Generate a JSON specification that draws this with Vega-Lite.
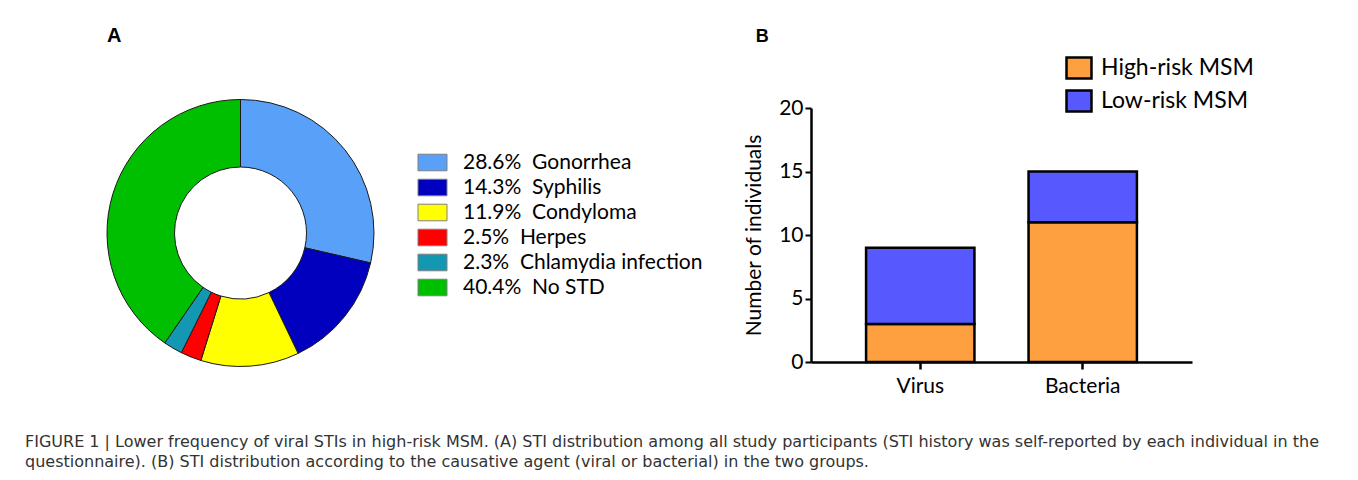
{
  "$schema": "https://vega.github.io/schema/vega-lite/v6.json",
  "background": "white",
  "padding": {"left": 25, "top": 26, "right": 5, "bottom": 5},
  "title": {
    "text": [
      "FIGURE 1 | Lower frequency of viral STIs in high-risk MSM. (A) STI distribution among all study participants (STI history was self-reported by each individual in the",
      "questionnaire). (B) STI distribution according to the causative agent (viral or bacterial) in the two groups."
    ],
    "orient": "bottom",
    "anchor": "start",
    "frame": "bounds",
    "dx": -80,
    "offset": 38,
    "font": "DejaVu Sans",
    "fontSize": 16,
    "fontWeight": "normal",
    "color": "#333333",
    "lineHeight": 20
  },
  "config": {"view": {"stroke": null}, "font": "Lato"},
  "resolve": {"scale": {"color": "independent"}, "legend": {"color": "independent"}},
  "spacing": 40,
  "hconcat": [
    {
      "width": 267,
      "height": 250,
      "title": {"text": "A", "anchor": "start", "frame": "group", "font": "Liberation Sans", "fontSize": 20, "fontWeight": "bold", "color": "black", "offset": 51.5},
      "data": {
        "values": [
          {"category": "28.6%\u00a0\u00a0Gonorrhea", "share": 28.6, "rank": 1},
          {"category": "14.3%\u00a0\u00a0Syphilis", "share": 14.3, "rank": 2},
          {"category": "11.9%\u00a0\u00a0Condyloma", "share": 11.9, "rank": 3},
          {"category": "2.5%\u00a0\u00a0Herpes", "share": 2.5, "rank": 4},
          {"category": "2.3%\u00a0\u00a0Chlamydia infection", "share": 2.3, "rank": 5},
          {"category": "40.4%\u00a0\u00a0No STD", "share": 40.4, "rank": 6}
        ]
      },
      "mark": {"type": "arc", "innerRadius": 66, "outerRadius": 133.5, "stroke": "#1a1a1a", "strokeWidth": 1},
      "encoding": {
        "theta": {"field": "share", "type": "quantitative", "stack": true},
        "order": {"field": "rank", "type": "quantitative"},
        "color": {
          "field": "category",
          "type": "nominal",
          "sort": null,
          "scale": {
            "domain": ["28.6%\u00a0\u00a0Gonorrhea", "14.3%\u00a0\u00a0Syphilis", "11.9%\u00a0\u00a0Condyloma", "2.5%\u00a0\u00a0Herpes", "2.3%\u00a0\u00a0Chlamydia infection", "40.4%\u00a0\u00a0No STD"],
            "range": ["#58A0F8", "#0000BE", "#FFFF00", "#FF0000", "#1497B2", "#00BE00"]
          },
          "legend": {
            "title": null,
            "orient": "none",
            "legendX": 315,
            "legendY": 44,
            "symbolType": "M-1.75,-1H1.75V1H-1.75Z",
            "symbolSize": 275,
            "symbolStrokeColor": "#808080",
            "symbolStrokeWidth": 1,
            "symbolOpacity": 1,
            "labelFont": "Lato",
            "labelFontSize": 21,
            "labelColor": "black",
            "labelOffset": 20,
            "rowPadding": 3,
            "labelLimit": 400
          }
        }
      }
    },
    {
      "width": 381,
      "height": 254,
      "title": {"text": "B", "anchor": "start", "frame": "bounds", "font": "Liberation Sans", "fontSize": 18, "fontWeight": "bold", "color": "black", "offset": 10, "dx": 12},
      "data": {
        "values": [
          {"agent": "Virus", "group": "High-risk MSM", "count": 3, "stackRank": 1},
          {"agent": "Virus", "group": "Low-risk MSM", "count": 6, "stackRank": 2},
          {"agent": "Bacteria", "group": "High-risk MSM", "count": 11, "stackRank": 1},
          {"agent": "Bacteria", "group": "Low-risk MSM", "count": 4, "stackRank": 2}
        ]
      },
      "mark": {"type": "bar", "stroke": "black", "strokeWidth": 2.5},
      "encoding": {
        "x": {
          "field": "agent",
          "type": "nominal",
          "sort": ["Virus", "Bacteria"],
          "scale": {"paddingInner": 0.333, "paddingOuter": 0.339},
          "axis": {"title": null, "labelAngle": 0, "labelFont": "Lato", "labelFontSize": 21, "labelColor": "black", "labelPadding": 6, "tickSize": 7, "tickWidth": 2.5, "tickColor": "black", "domainColor": "black", "domainWidth": 2.5}
        },
        "y": {
          "field": "count",
          "type": "quantitative",
          "stack": "zero",
          "scale": {"domain": [0, 20], "nice": false},
          "axis": {"values": [0, 5, 10, 15, 20], "grid": false, "title": "Number of individuals", "titleFont": "Lato", "titleFontSize": 21, "titleFontWeight": "normal", "titleColor": "black", "titlePadding": 14, "labelFont": "Lato", "labelFontSize": 21, "labelColor": "black", "labelPadding": 2, "tickSize": 6, "tickWidth": 2, "tickColor": "black", "domainColor": "black", "domainWidth": 2.5}
        },
        "order": {"field": "stackRank", "type": "quantitative", "sort": "ascending"},
        "color": {
          "field": "group",
          "type": "nominal",
          "scale": {"domain": ["High-risk MSM", "Low-risk MSM"], "range": ["#FFA040", "#5858FF"]},
          "legend": {
            "title": null,
            "orient": "none",
            "legendX": 256,
            "legendY": -52,
            "symbolType": "M-1.19,-1H1.19V1H-1.19Z",
            "symbolSize": 441,
            "symbolStrokeColor": "black",
            "symbolStrokeWidth": 2.5,
            "symbolOpacity": 1,
            "labelFont": "Lato",
            "labelFontSize": 23,
            "labelColor": "black",
            "labelOffset": 10,
            "rowPadding": 1,
            "encode": {"symbols": {"update": {
              "fill": {"signal": "datum.value == 'Low-risk MSM' ? '#8C8CFF' : '#FFA040'"},
              "stroke": {"value": "black"},
              "strokeWidth": {"value": 2.5}
            }}}
          }
        }
      }
    }
  ]
}
